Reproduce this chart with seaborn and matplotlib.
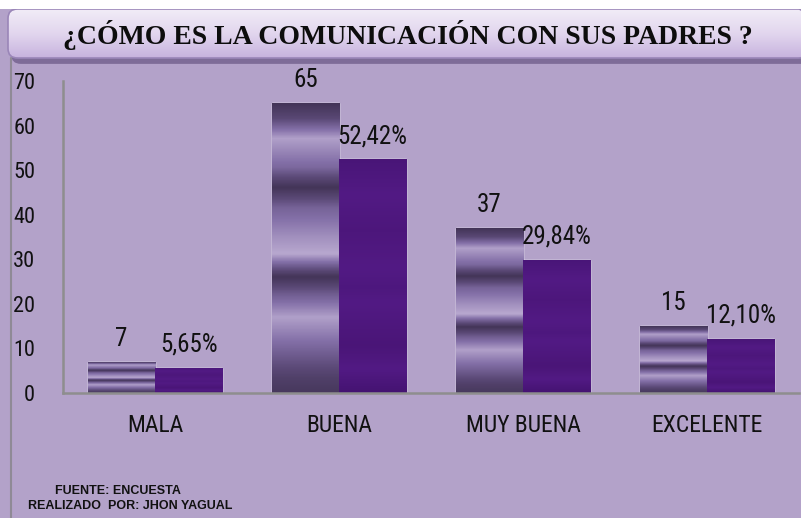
import numpy as np
import pandas as pd
import matplotlib
matplotlib.use('Agg')
import matplotlib.pyplot as plt
from matplotlib.colors import LinearSegmentedColormap
from matplotlib.patches import FancyBboxPatch, Rectangle
import seaborn as sns

# Data
categorias = ['MALA', 'BUENA', 'MUY BUENA', 'EXCELENTE']
frecuencia = [7, 65, 37, 15]
porcentaje = [5.65, 52.42, 29.84, 12.10]
titulo = '¿CÓMO ES LA COMUNICACIÓN CON SUS PADRES ?'
y_ticks = [0, 10, 20, 30, 40, 50, 60, 70]

BG = '#b3a2c9'
AXIS_GRAY = '#8e8e8e'
num_font = ['Roboto Condensed', 'Liberation Sans', 'DejaVu Sans']

sns.set_theme(style='white')
plt.rcParams['font.family'] = num_font

df = pd.DataFrame({
    'categoria': categorias * 2,
    'valor': frecuencia + porcentaje,
    'serie': ['Frecuencia'] * len(categorias) + ['Porcentaje'] * len(categorias),
})

fig = plt.figure(figsize=(8.01, 5.18), dpi=100, facecolor=BG)

# white strip at top + left frame line
fig.patches.append(Rectangle((0, 1 - 9 / 518), 1, 9 / 518, transform=fig.transFigure,
                             facecolor='white', edgecolor='none', zorder=0))
fig.add_artist(plt.Line2D([11 / 801, 11 / 801], [0, 1 - 58 / 518], transform=fig.transFigure,
                          color='#8f8a96', lw=1.5))

ax = fig.add_axes([63 / 801, 1 - 393 / 518, 736 / 801, 312 / 518])
ax.set_facecolor('none')

sns.barplot(data=df, x='categoria', y='valor', hue='serie',
            palette=['#6b5888', '#4b1679'], width=0.73, gap=0,
            saturation=1, legend=False, ax=ax)

# striped metallic texture for the first series
stripe_cmap = LinearSegmentedColormap.from_list(
    'stripes', ['#3f3152', '#5c4a78', '#8470a8', '#b8a8cf'])
stops_pos = [0.0, 0.05, 0.12, 0.22, 0.29, 0.36, 0.46, 0.52, 0.6, 0.66, 0.74, 0.84, 0.95, 1.0]
stops_val = [0.05, 0.3, 0.95, 0.6, 0.05, 0.55, 0.85, 1.0, 0.05, 0.5, 0.95, 0.6, 0.2, 0.1]
grad = np.interp(np.linspace(0, 1, 200), stops_pos, stops_val).reshape(-1, 1)

for bar in ax.containers[0]:
    x0, y0 = bar.get_x(), bar.get_y()
    w, h = bar.get_width(), bar.get_height()
    im = ax.imshow(grad, cmap=stripe_cmap, aspect='auto', vmin=0, vmax=1,
                   extent=(x0, x0 + w, y0, y0 + h), origin='upper', zorder=bar.get_zorder() + 0.1)
    im.set_clip_path(bar)

# subtle shading on the second series
dark_cmap = LinearSegmentedColormap.from_list('deep', ['#3c0f66', '#521a84', '#45126f'])
shade = np.interp(np.linspace(0, 1, 100), [0, 0.3, 0.55, 0.8, 1], [0.3, 0.7, 0.4, 0.8, 0.2]).reshape(-1, 1)
for bar in ax.containers[1]:
    x0, y0 = bar.get_x(), bar.get_y()
    w, h = bar.get_width(), bar.get_height()
    im = ax.imshow(shade, cmap=dark_cmap, aspect='auto', vmin=0, vmax=1,
                   extent=(x0, x0 + w, y0, y0 + h), origin='upper', zorder=bar.get_zorder() + 0.1)
    im.set_clip_path(bar)

# value labels
for bar, v in zip(ax.containers[0], frecuencia):
    ax.annotate(f'{v}', (bar.get_x() + bar.get_width() / 2, bar.get_height()),
                xytext=(0, 8), textcoords='offset points', ha='center', va='bottom',
                fontsize=18, color='#111111', zorder=5)
for bar, v in zip(ax.containers[1], porcentaje):
    ax.annotate(f'{v:.2f}'.replace('.', ',') + '%', (bar.get_x() + bar.get_width() / 2, bar.get_height()),
                xytext=(0, 8), textcoords='offset points', ha='center', va='bottom',
                fontsize=18, color='#111111', zorder=5)

ax.set_xlim(-0.5, len(categorias) - 0.5)
ax.set_ylim(0, 70)
ax.set_yticks(y_ticks)
ax.set_xlabel('')
ax.set_ylabel('')
ax.tick_params(axis='y', length=0, pad=20, labelsize=16, labelcolor='#111111')
ax.tick_params(axis='x', length=0, pad=15, labelsize=17, labelcolor='#111111')
for side in ['top', 'right']:
    ax.spines[side].set_visible(False)
for side in ['left', 'bottom']:
    ax.spines[side].set_color(AXIS_GRAY)
    ax.spines[side].set_linewidth(1.8)

# title banner with gradient
tax = fig.add_axes([8 / 801, 1 - 58 / 518, 800 / 801, 49 / 518])
tax.set_axis_off()
tax.set_xlim(0, 1)
tax.set_ylim(0, 1)
shadow = FancyBboxPatch((0.004, -0.12), 1.0, 1.0, boxstyle='round,pad=0,rounding_size=0.012',
                        transform=tax.transAxes, facecolor='#7e6c98', edgecolor='none',
                        mutation_aspect=16, clip_on=False, zorder=0)
tax.add_patch(shadow)
box = FancyBboxPatch((0, 0), 1.0, 1.0, boxstyle='round,pad=0,rounding_size=0.012',
                     transform=tax.transAxes, facecolor='none', edgecolor='#9a86b8',
                     lw=1.2, mutation_aspect=16, clip_on=False, zorder=3)
tax.add_patch(box)
tgrad = np.linspace(0, 1, 100).reshape(-1, 1)
title_cmap = LinearSegmentedColormap.from_list('titlebg', ['#f1ecf7', '#e2d6ee', '#c7b3de'])
tim = tax.imshow(tgrad, cmap=title_cmap, aspect='auto', extent=(0, 1, 0, 1), origin='upper', zorder=1)
tim.set_clip_path(box)
tax.text(0.5, 0.47, titulo, ha='center', va='center', fontsize=20, fontweight='bold',
         family=['Liberation Serif', 'DejaVu Serif'], color='#0d0d0d', zorder=4)

# footer
fig.text(118 / 801, 1 - 491 / 518, 'FUENTE: ENCUESTA', ha='center', va='center',
         fontsize=9, fontweight='bold', family=['Liberation Sans', 'DejaVu Sans'], color='#111111')
fig.text(130 / 801, 1 - 506 / 518, 'REALIZADO  POR: JHON YAGUAL', ha='center', va='center',
         fontsize=9, fontweight='bold', family=['Liberation Sans', 'DejaVu Sans'], color='#111111')

fig.savefig('out.png', dpi=100, facecolor=BG)
